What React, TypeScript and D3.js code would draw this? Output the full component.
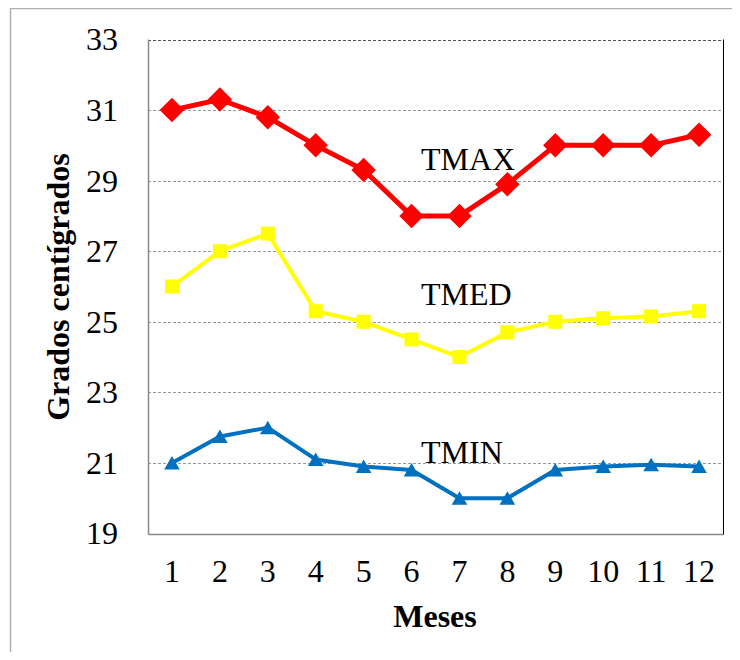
import { useEffect, useRef } from 'react';
import * as d3 from 'd3';

const months = ['1', '2', '3', '4', '5', '6', '7', '8', '9', '10', '11', '12'];
const tmax = [31.0, 31.3, 30.8, 30.0, 29.3, 28.0, 28.0, 28.9, 30.0, 30.0, 30.0, 30.3];
const tmed = [26.0, 27.0, 27.5, 25.3, 25.0, 24.5, 24.0, 24.7, 25.0, 25.1, 25.15, 25.3];
const tmin = [21.0, 21.75, 22.0, 21.1, 20.9, 20.8, 20.0, 20.0, 20.8, 20.9, 20.95, 20.9];
const yTicks = [19, 21, 23, 25, 27, 29, 31, 33];

export default function App() {
  const svgRef = useRef<SVGSVGElement>(null);

  useEffect(() => {
    if (!svgRef.current) return;
    const width = 740;
    const height = 660;
    const margin = { top: 39.5, right: 17, bottom: 126.5, left: 148 };
    const font = '"Liberation Serif", "Times New Roman", serif';
    const fs = 32;

    const svg = d3.select(svgRef.current);
    svg.selectAll('*').remove();

    // outer frame, runs off the right and bottom edges
    svg.append('rect')
      .attr('x', 10.5).attr('y', 8.5)
      .attr('width', width).attr('height', height)
      .attr('fill', 'white').attr('stroke', '#b0b0b0').attr('stroke-width', 1.5);

    const x = d3.scaleBand()
      .domain(months)
      .range([margin.left, width - margin.right]);
    const y = d3.scaleLinear()
      .domain([19, 33])
      .range([height - margin.bottom, margin.top]);

    const px = (i: number) => (x(months[i]) as number) + x.bandwidth() / 2;

    // grid lines
    svg.append('g')
      .selectAll('line')
      .data(yTicks.filter(t => t > 19))
      .join('line')
      .attr('x1', margin.left).attr('x2', width - margin.right)
      .attr('y1', d => Math.round(y(d)) + 0.5).attr('y2', d => Math.round(y(d)) + 0.5)
      .attr('stroke', d => (d === 33 ? '#555' : '#999'))
      .attr('stroke-width', 1)
      .attr('stroke-dasharray', '3,2');

    // axes lines
    const x0 = margin.left + 0.5;
    const x1 = width - margin.right + 0.5;
    const yb = Math.round(y(19)) + 0.5;
    svg.append('line').attr('x1', x0).attr('x2', x0).attr('y1', y(33)).attr('y2', yb)
      .attr('stroke', '#888').attr('stroke-width', 1.5);
    svg.append('line').attr('x1', x0).attr('x2', x1).attr('y1', yb).attr('y2', yb)
      .attr('stroke', '#888').attr('stroke-width', 1.5);
    svg.append('line').attr('x1', x1).attr('x2', x1).attr('y1', y(33)).attr('y2', yb)
      .attr('stroke', '#000').attr('stroke-width', 1);

    // tick labels
    svg.append('g')
      .selectAll('text')
      .data(yTicks)
      .join('text')
      .attr('x', 118)
      .attr('y', d => y(d))
      .attr('dy', '0.34em')
      .attr('text-anchor', 'end')
      .attr('font-family', font)
      .attr('font-size', fs)
      .text(d => d);

    svg.append('g')
      .selectAll('text')
      .data(months)
      .join('text')
      .attr('x', (d, i) => px(i))
      .attr('y', 582)
      .attr('text-anchor', 'middle')
      .attr('font-family', font)
      .attr('font-size', fs)
      .text(d => d);

    // axis titles
    svg.append('text')
      .attr('x', 435).attr('y', 627)
      .attr('text-anchor', 'middle')
      .attr('font-family', font).attr('font-size', fs).attr('font-weight', 'bold')
      .text('Meses');
    svg.append('text')
      .attr('transform', 'translate(69,287) rotate(-90)')
      .attr('text-anchor', 'middle')
      .attr('font-family', font).attr('font-size', fs).attr('font-weight', 'bold')
      .text('Grados centígrados');

    const line = d3.line<number>().x((d, i) => px(i)).y(d => y(d));

    const series = [
      { name: 'TMAX', values: tmax, color: '#ff0000', width: 5, symbol: d3.symbolSquare, size: 300, rot: 45, dy: 0, label: [421, 170] },
      { name: 'TMED', values: tmed, color: '#ffff00', width: 4, symbol: d3.symbolSquare, size: 196, rot: 0, dy: 0, label: [421, 305] },
      { name: 'TMIN', values: tmin, color: '#0070c0', width: 4, symbol: d3.symbolTriangle, size: 105, rot: 0, dy: 2, label: [421, 463] },
    ];

    series.forEach(s => {
      svg.append('path')
        .datum(s.values)
        .attr('d', line)
        .attr('fill', 'none')
        .attr('stroke', s.color)
        .attr('stroke-width', s.width)
        .attr('stroke-linejoin', 'round');

      const sym = d3.symbol().type(s.symbol).size(s.size);
      svg.append('g')
        .selectAll('path')
        .data(s.values)
        .join('path')
        .attr('transform', (d, i) => `translate(${px(i)},${y(d) + s.dy}) rotate(${s.rot})`)
        .attr('d', sym)
        .attr('fill', s.color);

      svg.append('text')
        .attr('x', s.label[0]).attr('y', s.label[1])
        .attr('font-family', font).attr('font-size', fs)
        .text(s.name);
    });
  }, []);

  return <svg ref={svgRef} width={740} height={660} style={{ display: 'block', margin: -8 }} />;
}
